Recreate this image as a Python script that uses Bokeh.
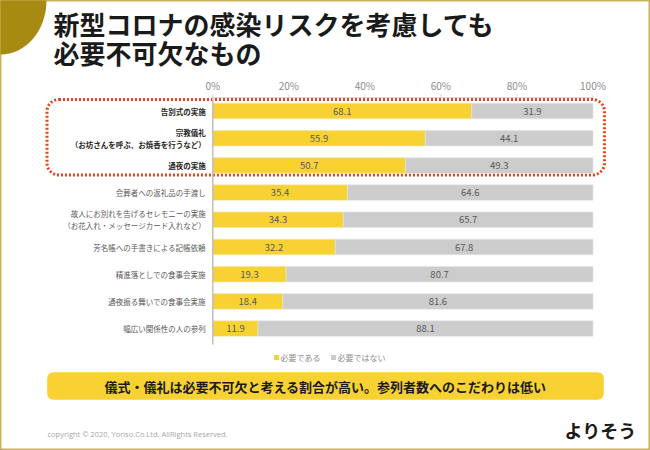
from bokeh.plotting import figure
from bokeh.models import Range1d, BoxAnnotation, ColumnDataSource
from bokeh.core.properties import value
from bokeh.embed import file_html
from bokeh.resources import INLINE

# ---------------- data ----------------
categories = [
    "告別式の実施",
    "宗教儀礼\n（お坊さんを呼ぶ、お焼香を行うなど）",
    "通夜の実施",
    "会葬者への返礼品の手渡し",
    "故人にお別れを告げるセレモニーの実施\n（お花入れ・メッセージカード入れなど）",
    "芳名帳への手書きによる記帳依頼",
    "精進落としでの食事会実施",
    "通夜振る舞いでの食事会実施",
    "幅広い関係性の人の参列",
]
needed = [68.1, 55.9, 50.7, 35.4, 34.3, 32.2, 19.3, 18.4, 11.9]
not_needed = [31.9, 44.1, 49.3, 64.6, 65.7, 67.8, 80.7, 81.6, 88.1]
highlighted = [True, True, True, False, False, False, False, False, False]
series_names = ["必要である", "必要ではない"]
ticks = [0, 20, 40, 60, 80, 100]
tick_labels = ["0%", "20%", "40%", "60%", "80%", "100%"]
title_lines = ["新型コロナの感染リスクを考慮しても", "必要不可欠なもの"]
summary = "儀式・儀礼は必要不可欠と考える割合が高い。参列者数へのこだわりは低い"
copyright_text = "copyright © 2020,  Yoriso.Co.Ltd. AllRights Reserved."
logo_text = "よりそう"

# ---------------- layout ----------------
W, H = 650, 450
OFF = 0
X0_PX, X100_PX = 212.3, 592.5      # pixel anchors of 0% and 100%
ROW0_PX, ROW_STEP = 110.5, 27.2    # first row centre and row pitch
pct_per_px = 100.0 / (X100_PX - X0_PX)
x_start = (OFF - X0_PX) * pct_per_px
x_end = (OFF + W - X0_PX) * pct_per_px
y_bottom = (OFF + H - ROW0_PX) / ROW_STEP
y_top = (OFF - ROW0_PX) / ROW_STEP

FONT = value("Noto Sans CJK JP")
YELLOW = "#F7D232"
GREY = "#CCCCCC"

p = figure(width=W, height=H, output_backend="svg", toolbar_location=None,
           x_range=Range1d(x_start, x_end), y_range=Range1d(y_bottom, y_top),
           x_axis_type=None, y_axis_type=None, title=None, min_border=0)
p.extra_x_ranges = {"px": Range1d(OFF, OFF + W)}
p.extra_y_ranges = {"px": Range1d(OFF + H, OFF)}
p.background_fill_color = "white"
p.border_fill_color = "white"
p.outline_line_color = "#C9B25E"
p.outline_line_width = 2

# decorative corner
p.ellipse(x=[0], y=[0], width=[92], height=[108], fill_color="#A68A12",
          line_color=None, x_range_name="px", y_range_name="px")

# title
p.text(x=[53, 53], y=[23, 52], text=title_lines, text_font=FONT,
       text_font_style="bold", text_font_size="26px", text_color="#1A1A1A",
       text_baseline="middle", text_align="left",
       x_range_name="px", y_range_name="px")

# highlight box & summary banner
p.add_layout(BoxAnnotation(left=46.5, right=604, top=99, bottom=174.5,
                           x_range_name="px", y_range_name="px",
                           fill_alpha=0, line_color="#E4441A", line_alpha=1,
                           line_width=3, line_dash="2 2", border_radius=12,
                           level="underlay"))
p.add_layout(BoxAnnotation(left=46.7, right=603.3, top=371.7, bottom=399.3,
                           x_range_name="px", y_range_name="px",
                           fill_color=YELLOW, fill_alpha=1, line_color=None,
                           border_radius=6, level="underlay"))

# bars
n = len(categories)
total = [a + b for a, b in zip(needed, not_needed)]
src = ColumnDataSource(dict(
    y=list(range(n)), need=needed, notneed=not_needed, total=total,
    need_mid=[v / 2 for v in needed],
    notneed_mid=[a + b / 2 for a, b in zip(needed, not_needed)],
    need_lbl=[f"{v:.1f}" for v in needed],
    notneed_lbl=[f"{v:.1f}" for v in not_needed],
))
p.hbar(y="y", left=0, right="need", height=0.57, fill_color=YELLOW,
       line_color="#F3E7B0", line_width=0.6, source=src)
p.hbar(y="y", left="need", right="total", height=0.57, fill_color=GREY,
       line_color="#E6E6E6", line_width=0.6, source=src)
p.text(x="need_mid", y="y", text="need_lbl", source=src, text_font=FONT,
       text_font_size="9.5px", text_color="#595959", text_align="center",
       text_baseline="middle")
p.text(x="notneed_mid", y="y", text="notneed_lbl", source=src, text_font=FONT,
       text_font_size="9.5px", text_color="#595959", text_align="center",
       text_baseline="middle")

# category labels
hi_idx = [i for i in range(n) if highlighted[i]]
lo_idx = [i for i in range(n) if not highlighted[i]]
p.text(x=[0] * len(hi_idx), y=hi_idx, text=[categories[i] for i in hi_idx],
       x_offset=-7, text_font=FONT, text_font_style="bold",
       text_font_size="7.5px", text_color="#262626", text_align="right",
       text_baseline="middle", text_line_height=1.1)
p.text(x=[0] * len(lo_idx), y=lo_idx, text=[categories[i] for i in lo_idx],
       x_offset=-7, text_font=FONT, text_font_size="7.5px",
       text_color="#595959", text_align="right", text_baseline="middle",
       text_line_height=1.1)

# axis (top)
p.segment(x0=[0], x1=[100], y0=[97], y1=[97], line_color="#D9D9D9",
          line_width=1, y_range_name="px")
p.segment(x0=ticks, x1=ticks, y0=[94] * len(ticks), y1=[97] * len(ticks),
          line_color="#D9D9D9", line_width=1, y_range_name="px")
p.segment(x0=[0], x1=[0], y0=[97], y1=[344], line_color="#BFBFBF",
          line_width=1.5, y_range_name="px")
p.text(x=ticks, y=[85] * len(ticks), text=tick_labels, text_font=FONT,
       text_font_size="10px", text_color="#8C8C8C", text_align="center",
       text_baseline="middle", y_range_name="px")

# legend
p.scatter(x=[276, 333], y=[357, 357], marker="square", size=5,
          fill_color=[YELLOW, GREY], line_color=None,
          x_range_name="px", y_range_name="px")
p.text(x=[280, 337], y=[357, 357], text=series_names, text_font=FONT,
       text_font_size="8px", text_color="#8C8C8C", text_align="left",
       text_baseline="middle", x_range_name="px", y_range_name="px")

# summary text
p.text(x=[325], y=[385.5], text=[summary], text_font=FONT,
       text_font_style="bold", text_font_size="13px", text_color="#1A1A1A",
       text_align="center", text_baseline="middle",
       x_range_name="px", y_range_name="px")

# footer
p.text(x=[47], y=[433], text=[copyright_text], text_font=value("Open Sans"),
       text_font_size="7.5px", text_color="#A6A6A6", text_align="left",
       text_baseline="middle", x_range_name="px", y_range_name="px")
p.text(x=[564], y=[429], text=[logo_text], text_font=FONT,
       text_font_style="bold", text_font_size="18px", text_color="#1A1A1A",
       text_align="left", text_baseline="middle",
       x_range_name="px", y_range_name="px")

open("out.html", "w").write(file_html(p, INLINE))
